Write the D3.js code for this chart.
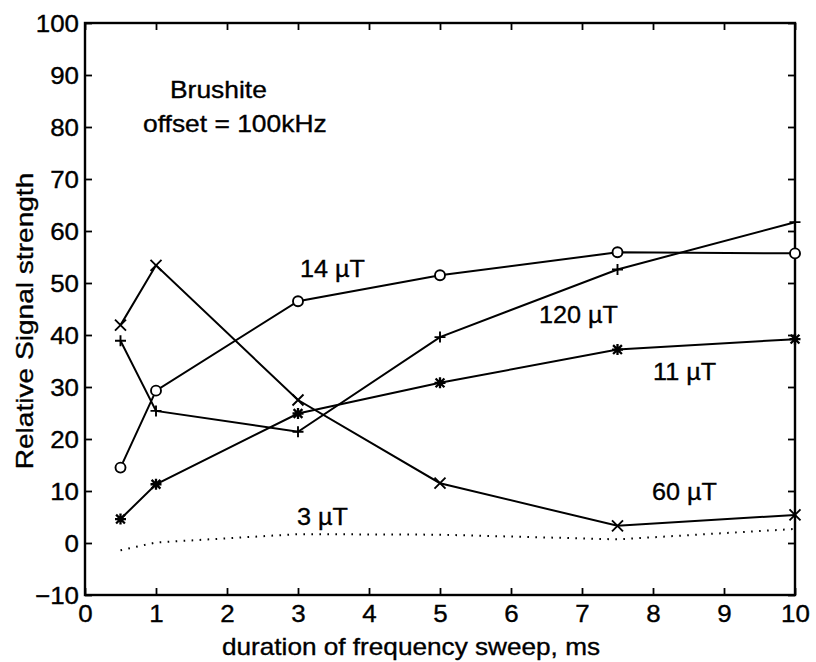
<!DOCTYPE html>
<html>
<head>
<meta charset="utf-8">
<script src="https://cdn.jsdelivr.net/npm/d3@7"></script>
<style>
  html, body { margin: 0; padding: 0; background: #fff; }
  svg text { font-family: "Liberation Sans", Arial, Helvetica, sans-serif; fill: #000;
             stroke: #000; stroke-width: 0.35px; }
</style>
</head>
<body>
<svg id="chart" width="816" height="662"></svg>
<script>
// Sweep durations (ms) at which each field strength was measured
const durations = [0.5, 1, 3, 5, 7.5, 10];

// Relative signal strength per field amplitude
const s14uT  = [14.5, 29.3, 46.5, 51.5, 55.9, 55.7];
const s120uT = [38.9, 25.4, 21.4, 39.6, 52.6, 61.7];
const s11uT  = [4.6, 11.3, 24.9, 30.8, 37.2, 39.2];
const s60uT  = [41.9, 53.4, 27.5, 11.5, 3.3, 5.4];
const s3uT   = [-1.4, 0.1, 1.7, 1.6, 0.7, 2.7];

const xTicks = [0, 1, 2, 3, 4, 5, 6, 7, 8, 9, 10];
const yTicks = [-10, 0, 10, 20, 30, 40, 50, 60, 70, 80, 90, 100];

const series = [
  { values: s14uT,  marker: "circle",   label: "14 \u00b5T",  lx: 300, ly: 277 },
  { values: s120uT, marker: "plus",     label: "120 \u00b5T", lx: 539, ly: 323 },
  { values: s11uT,  marker: "asterisk", label: "11 \u00b5T",  lx: 653, ly: 380 },
  { values: s60uT,  marker: "cross",    label: "60 \u00b5T",  lx: 652, ly: 500 },
  { values: s3uT,   marker: null,       label: "3 \u00b5T",   lx: 297, ly: 525, dotted: true }
];

const svg = d3.select("#chart");
const plotLeft = 85, plotRight = 795, plotTop = 23, plotBottom = 595;

const x = d3.scaleLinear().domain([0, 10]).range([plotLeft, plotRight]);
const y = d3.scaleLinear().domain([-10, 100]).range([plotBottom, plotTop]);

const tickLen = 7;
const fontSize = 24;

// Widen a text element horizontally by a factor, keeping its anchor
function stretch(sel, k) {
  sel.each(function () {
    const w = this.getComputedTextLength();
    d3.select(this).attr("textLength", w * k).attr("lengthAdjust", "spacingAndGlyphs");
  });
}

// Axes: ticks pointing inward, labels on the bottom and left only
const xAxisB = d3.axisBottom(x).tickValues(xTicks).tickSizeInner(-tickLen).tickSizeOuter(0)
  .tickFormat(d3.format("d"));
const xAxisT = d3.axisTop(x).tickValues(xTicks).tickSizeInner(-tickLen).tickSizeOuter(0)
  .tickFormat("");
const yAxisL = d3.axisLeft(y).tickValues(yTicks).tickSizeInner(-tickLen).tickSizeOuter(0)
  .tickPadding(6).tickFormat(d => d < 0 ? "\u2212" + Math.abs(d) : d);
const yAxisR = d3.axisRight(y).tickValues(yTicks).tickSizeInner(-tickLen).tickSizeOuter(0)
  .tickFormat("");

function styleAxis(g) {
  g.select(".domain").remove();
  g.selectAll(".tick line").attr("stroke", "#000").attr("stroke-width", 1.8);
  g.selectAll(".tick text").attr("font-size", fontSize).attr("fill", "#000")
    .style("font-family", '"Liberation Sans", Arial, sans-serif');
}

svg.append("g").attr("transform", `translate(0,${plotBottom})`).call(xAxisB).call(styleAxis)
  .selectAll(".tick text").attr("dy", 0).attr("y", 27).call(stretch, 1.08);
svg.append("g").attr("transform", `translate(0,${plotTop})`).call(xAxisT).call(styleAxis);
svg.append("g").attr("transform", `translate(${plotLeft},0)`).call(yAxisL).call(styleAxis)
  .selectAll(".tick text").attr("dy", "0.36em").call(stretch, 1.08);
svg.append("g").attr("transform", `translate(${plotRight},0)`).call(yAxisR).call(styleAxis);

// Box around the plot area
svg.append("rect")
  .attr("x", plotLeft).attr("y", plotTop)
  .attr("width", plotRight - plotLeft).attr("height", plotBottom - plotTop)
  .attr("fill", "none").attr("stroke", "#000").attr("stroke-width", 2.4);

// Lines
const line = d3.line().x((d, i) => x(durations[i])).y(d => y(d));

series.forEach(s => {
  svg.append("path")
    .datum(s.values)
    .attr("d", line)
    .attr("fill", "none")
    .attr("stroke", "#000")
    .attr("stroke-width", 2)
    .attr("stroke-dasharray", s.dotted ? "1.6,6.4" : null)
    .attr("stroke-linecap", "butt");
});

// Markers
const m = 5.5;
function drawMarker(g, type, cx, cy) {
  const p = d3.path();
  if (type === "circle") {
    g.append("circle").attr("cx", cx).attr("cy", cy).attr("r", 5)
      .attr("fill", "#fff").attr("stroke", "#000").attr("stroke-width", 1.9);
    return;
  }
  if (type === "plus" || type === "asterisk") {
    p.moveTo(cx - m, cy); p.lineTo(cx + m, cy);
    p.moveTo(cx, cy - m); p.lineTo(cx, cy + m);
  }
  if (type === "cross" || type === "asterisk") {
    const k = type === "asterisk" ? m * 0.8 : m;
    p.moveTo(cx - k, cy - k); p.lineTo(cx + k, cy + k);
    p.moveTo(cx - k, cy + k); p.lineTo(cx + k, cy - k);
  }
  g.append("path").attr("d", p.toString()).attr("fill", "none")
    .attr("stroke", "#000").attr("stroke-width", type === "asterisk" ? 2.3 : 1.9);
}

series.forEach(s => {
  if (!s.marker) return;
  const g = svg.append("g");
  s.values.forEach((v, i) => drawMarker(g, s.marker, x(durations[i]), y(v)));
});

// Series labels
series.forEach(s => {
  svg.append("text")
    .attr("x", s.lx).attr("y", s.ly)
    .attr("font-size", fontSize)
    .text(s.label)
    .call(stretch, 1.05);
});

// Annotations
svg.append("text").attr("x", 170).attr("y", 98).attr("font-size", fontSize)
  .text("Brushite").call(stretch, 1.1);
svg.append("text").attr("x", 143).attr("y", 132).attr("font-size", fontSize)
  .text("offset = 100kHz").call(stretch, 1.1);

// Axis titles
svg.append("text")
  .attr("x", 411).attr("y", 655)
  .attr("text-anchor", "middle").attr("font-size", fontSize)
  .text("duration of frequency sweep, ms").call(stretch, 1.09);

svg.append("text")
  .attr("transform", `translate(33,321) rotate(-90)`)
  .attr("text-anchor", "middle").attr("font-size", fontSize)
  .text("Relative Signal strength").call(stretch, 1.17);
</script>
</body>
</html>
